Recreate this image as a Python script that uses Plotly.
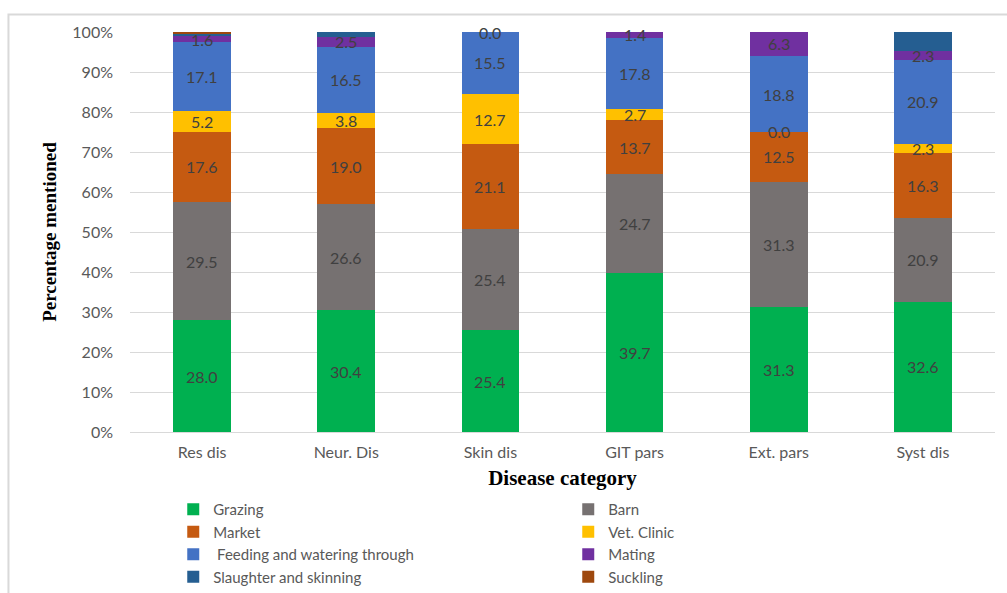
import plotly.graph_objects as go

# Disease categories and source-of-infection shares (percent of mentions)
categories = ["Res dis", "Neur. Dis", "Skin dis", "GIT pars", "Ext. pars", "Syst dis"]

grazing = [28.0, 30.4, 25.4, 39.7, 31.3, 32.6]
barn = [29.5, 26.6, 25.4, 24.7, 31.3, 20.9]
market = [17.6, 19.0, 21.1, 13.7, 12.5, 16.3]
vet_clinic = [5.2, 3.8, 12.7, 2.7, 0.0, 2.3]
feeding = [17.1, 16.5, 15.5, 17.8, 18.8, 20.9]
mating = [1.6, 2.5, 0.0, 1.4, 6.3, 2.3]
slaughter = [0.5, 1.3, 0.0, 0.0, 0.0, 4.7]
suckling = [0.5, 0.0, 0.0, 0.0, 0.0, 0.0]

series = [
    ("Grazing", grazing, "#00B050", True),
    ("Barn", barn, "#767171", True),
    ("Market", market, "#C55A11", True),
    ("Vet. Clinic", vet_clinic, "#FFC000", True),
    (" Feeding and watering through", feeding, "#4472C4", True),
    ("Mating", mating, "#7030A0", True),
    ("Slaughter and skinning", slaughter, "#255E91", False),
    ("Suckling", suckling, "#9E480E", False),
]

label_font = dict(family="Lato, Open Sans, sans-serif", size=16, color="#404040")

fig = go.Figure()
annotations = []
base = [0.0] * len(categories)
for name, vals, color, labelled in series:
    fig.add_trace(go.Bar(
        name=name, x=categories, y=vals,
        marker=dict(color=color, line=dict(width=0)),
        hoverinfo="name+y",
    ))
    if labelled:
        for i, v in enumerate(vals):
            annotations.append(dict(
                x=categories[i], y=min(base[i] + v / 2, 100.0), text=f"{v:.1f}",
                showarrow=False, xref="x", yref="y", font=label_font,
            ))
    base = [b + v for b, v in zip(base, vals)]

fig.update_layout(
    barmode="stack",
    bargap=0.6,
    width=1007, height=593,
    margin=dict(l=130, r=12, t=32, b=161, autoexpand=False),
    paper_bgcolor="white", plot_bgcolor="white",
    font=dict(family="Lato, Open Sans, sans-serif", size=15, color="#595959"),
    xaxis=dict(
        showgrid=False, showline=True, linecolor="#D9D9D9", linewidth=1,
        ticks="", tickfont=dict(size=16, color="#595959"),
        ticklabelstandoff=6,
        title=dict(text="<b>Disease category</b>",
                   font=dict(family="Liberation Serif, Times New Roman, serif", size=21, color="black"),
                   standoff=10),
    ),
    yaxis=dict(
        range=[0, 100], dtick=10, ticksuffix="%",
        showgrid=True, gridcolor="#D9D9D9", gridwidth=1,
        zeroline=False, showline=False, ticks="",
        tickfont=dict(size=16, color="#595959"),
        ticklabelstandoff=16,
        title=dict(text="<b>Percentage mentioned</b>",
                   font=dict(family="Liberation Serif, Times New Roman, serif", size=19, color="black"),
                   standoff=10),
    ),
    legend=dict(
        orientation="h", x=0.05, xanchor="left", y=-0.1525, yanchor="top",
        entrywidth=350, entrywidthmode="pixels",
        font=dict(size=15, color="#595959"),
        traceorder="normal", itemwidth=30, tracegroupgap=0,
    ),
    annotations=annotations,
    shapes=[dict(
        type="rect", xref="paper", yref="paper",
        x0=-0.1405, x1=1.02, y0=-0.45, y1=1.044,
        line=dict(color="#D9D9D9", width=2), fillcolor="rgba(0,0,0,0)", layer="below",
    )],
    showlegend=True,
)

fig.write_html("out.html")
